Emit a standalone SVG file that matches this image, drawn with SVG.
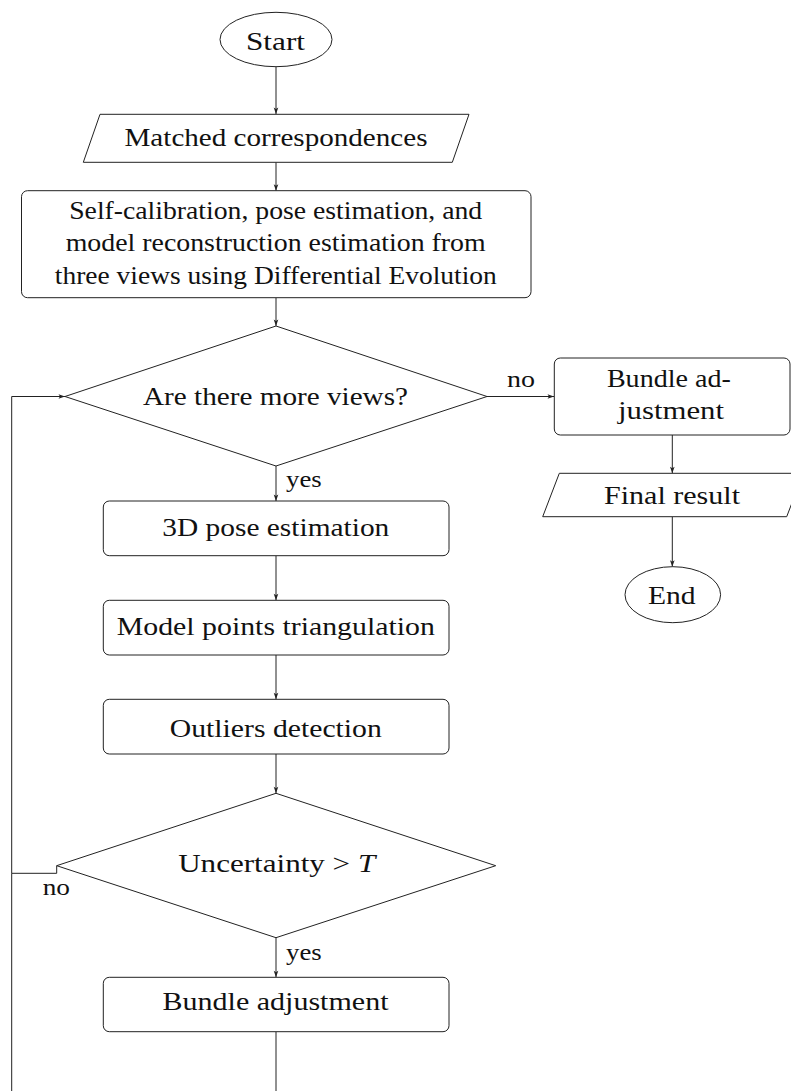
<svg xmlns="http://www.w3.org/2000/svg" width="791" height="1091" viewBox="0 0 791 1091">
<style>
  .shape { fill: #ffffff; stroke: #222222; stroke-width: 1; }
  .conn { fill: none; stroke: #222222; stroke-width: 1; }
  .lbl { font-family: 'Liberation Serif', 'DejaVu Serif', 'Times New Roman', serif; font-size: 26px; fill: #111111; text-anchor: middle; }
  .small { font-family: 'Liberation Serif', 'DejaVu Serif', 'Times New Roman', serif; font-size: 24px; fill: #111111; }
</style>
<defs>
  <marker id="arr" viewBox="-7 -3 8 6" refX="0" refY="0" markerWidth="8" markerHeight="6" markerUnits="userSpaceOnUse" orient="auto">
    <path d="M0,0 L-6.5,-2.3 L-5,0 L-6.5,2.3 Z" fill="#222222" stroke="none"/>
  </marker>
</defs>
<rect x="0" y="0" width="791" height="1091" fill="#ffffff"/>

<g id="connectors">
  <line class="conn" x1="276" y1="66.7" x2="276" y2="114" marker-end="url(#arr)"/>
  <line class="conn" x1="276" y1="162.3" x2="276" y2="190.7" marker-end="url(#arr)"/>
  <line class="conn" x1="276" y1="297.7" x2="276" y2="326" marker-end="url(#arr)"/>
  <line class="conn" x1="487" y1="396.5" x2="554" y2="396.5" marker-end="url(#arr)"/>
  <line class="conn" x1="672.3" y1="435" x2="672.3" y2="473.3" marker-end="url(#arr)"/>
  <line class="conn" x1="672.3" y1="516.7" x2="672.3" y2="566.7" marker-end="url(#arr)"/>
  <line class="conn" x1="276" y1="466" x2="276" y2="501" marker-end="url(#arr)"/>
  <line class="conn" x1="276" y1="555.7" x2="276" y2="600.3" marker-end="url(#arr)"/>
  <line class="conn" x1="276" y1="655" x2="276" y2="699.3" marker-end="url(#arr)"/>
  <line class="conn" x1="276" y1="754" x2="276" y2="793.3" marker-end="url(#arr)"/>
  <line class="conn" x1="276" y1="937.7" x2="276" y2="977.3" marker-end="url(#arr)"/>
  <polyline class="conn" points="56.7,865.7 56.7,873.3 11.7,873.3 11.7,396.5 65,396.5" marker-end="url(#arr)"/>
  <polyline class="conn" points="276,1031.7 276,1100 11.7,1100 11.7,873.3"/>
  <text class="small" x="507" y="386.5" textLength="28" lengthAdjust="spacingAndGlyphs">no</text>
  <text class="small" x="286" y="486.5" textLength="35.7" lengthAdjust="spacingAndGlyphs">yes</text>
  <text class="small" x="42.7" y="895" textLength="27.3" lengthAdjust="spacingAndGlyphs">no</text>
  <text class="small" x="286" y="960" textLength="35.7" lengthAdjust="spacingAndGlyphs">yes</text>
</g>

<g id="start">
  <ellipse class="shape" cx="276" cy="39.5" rx="56" ry="27.2"/>
  <text class="lbl" x="275.5" y="50" textLength="59" lengthAdjust="spacingAndGlyphs">Start</text>
</g>

<g id="matched">
  <polygon class="shape" points="100,114.3 469,114.3 452.3,162.3 83.3,162.3"/>
  <text class="lbl" x="276" y="146" textLength="303" lengthAdjust="spacingAndGlyphs">Matched correspondences</text>
</g>

<g id="selfcal">
  <rect class="shape" x="21.5" y="190.7" width="509.5" height="107" rx="6" ry="6"/>
  <text class="lbl" x="275.7" y="218.5" textLength="413" lengthAdjust="spacingAndGlyphs">Self-calibration, pose estimation, and</text>
  <text class="lbl" x="275.7" y="251" textLength="420" lengthAdjust="spacingAndGlyphs">model reconstruction estimation from</text>
  <text class="lbl" x="275.8" y="284" textLength="442" lengthAdjust="spacingAndGlyphs">three views using Differential Evolution</text>
</g>

<g id="moreviews">
  <polygon class="shape" points="276,326 487,396.5 276,466 65,396.5"/>
  <text class="lbl" x="275.5" y="405" textLength="265" lengthAdjust="spacingAndGlyphs">Are there more views?</text>
</g>

<g id="bundle-final">
  <rect class="shape" x="554.3" y="358" width="235.7" height="77" rx="6" ry="6"/>
  <text class="lbl" x="668.9" y="387.3" textLength="124" lengthAdjust="spacingAndGlyphs">Bundle ad-</text>
  <text class="lbl" x="671" y="419.3" textLength="106" lengthAdjust="spacingAndGlyphs">justment</text>
</g>

<g id="final-result">
  <polygon class="shape" points="559.3,473.3 803.3,473.3 786.7,516.7 542.7,516.7"/>
  <text class="lbl" x="672" y="504" textLength="136" lengthAdjust="spacingAndGlyphs">Final result</text>
</g>

<g id="end">
  <ellipse class="shape" cx="672.8" cy="594.7" rx="47.8" ry="28"/>
  <text class="lbl" x="671.8" y="604" textLength="47.7" lengthAdjust="spacingAndGlyphs">End</text>
</g>

<g id="pose3d">
  <rect class="shape" x="103.3" y="501" width="345.7" height="54.7" rx="6" ry="6"/>
  <text class="lbl" x="275.8" y="535.7" textLength="227" lengthAdjust="spacingAndGlyphs">3D pose estimation</text>
</g>

<g id="triangulation">
  <rect class="shape" x="103.3" y="600.3" width="345.7" height="54.7" rx="6" ry="6"/>
  <text class="lbl" x="275.8" y="635" textLength="318" lengthAdjust="spacingAndGlyphs">Model points triangulation</text>
</g>

<g id="outliers">
  <rect class="shape" x="103.3" y="699.3" width="345.7" height="54.7" rx="6" ry="6"/>
  <text class="lbl" x="275.8" y="736.7" textLength="212" lengthAdjust="spacingAndGlyphs">Outliers detection</text>
</g>

<g id="uncertainty">
  <polygon class="shape" points="276,793.3 495.7,865.7 276,937.7 56.7,865.7"/>
  <text class="lbl" x="276.7" y="871.7" textLength="197" lengthAdjust="spacingAndGlyphs">Uncertainty &gt; <tspan font-style="italic">T</tspan></text>
</g>

<g id="bundle">
  <rect class="shape" x="103.3" y="977.3" width="345.7" height="54.4" rx="6" ry="6"/>
  <text class="lbl" x="275.5" y="1010" textLength="226" lengthAdjust="spacingAndGlyphs">Bundle adjustment</text>
</g>
</svg>
